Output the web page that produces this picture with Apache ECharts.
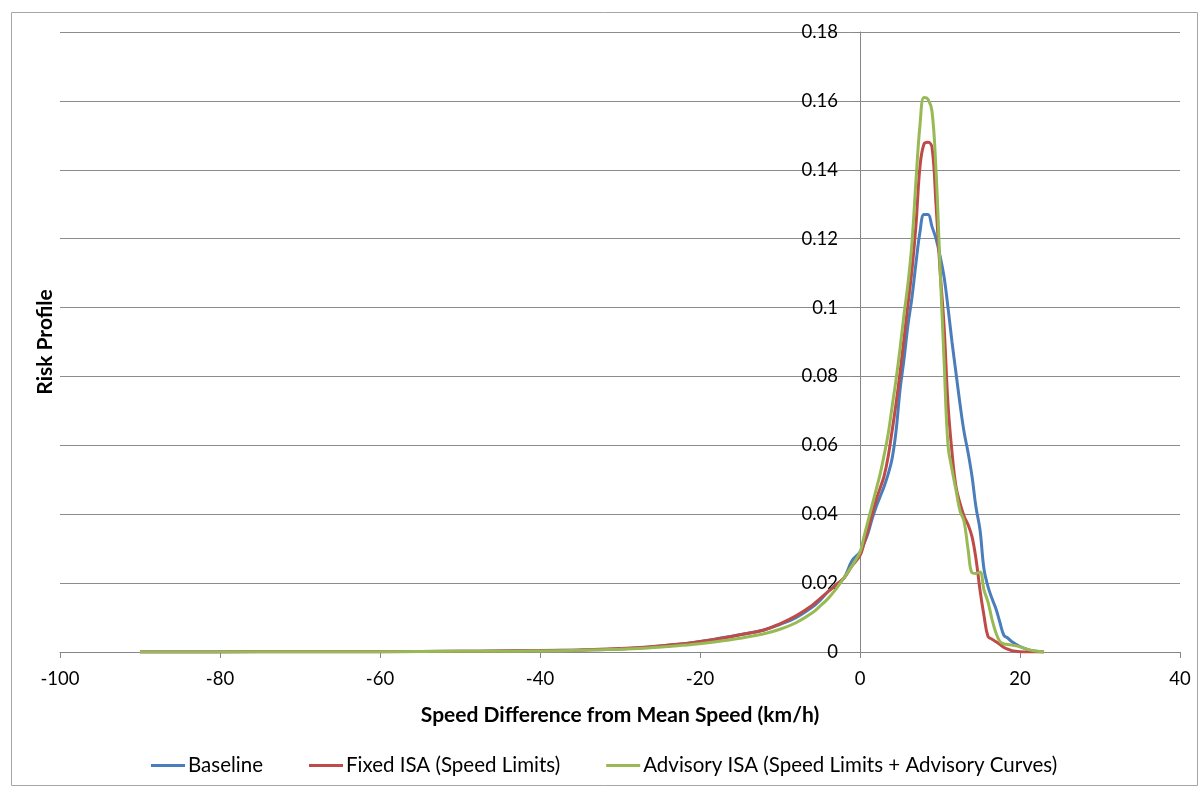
<!DOCTYPE html>
<html>
<head>
<meta charset="utf-8">
<script src="https://cdn.jsdelivr.net/npm/echarts@6/dist/echarts.min.js"></script>
<style>
html,body{margin:0;padding:0;background:#fff;}
#chart{width:1203px;height:790px;}
</style>
</head>
<body>
<div id="chart"></div>
<script>
// Speed difference from mean speed (km/h)
const speedDiff = [-90,-80,-70,-60,-50,-45,-40,-35,-30,-27,-24,-21,-18,-15,-12,-10,-8,-6,-5,-4,-3,-2,-1,
  0,0.5,1,1.5,2,2.5,3,3.5,4,4.5,5,5.5,6,6.5,7,7.5,8,8.5,9,9.5,10,10.5,11,11.5,12,12.5,13,13.5,14,14.5,15,15.5,16,16.5,17,17.5,18,18.5,19,
  20,21,22,23];

const baseline = [0,0,0.0001,0.0001,0.0002,0.0003,0.0004,0.0006,0.0009,0.0013,0.0019,0.0027,0.0038,0.005,0.0064,0.008,0.0100,0.013,0.015,0.0175,0.0195,0.0215,0.0265,
  0.029,0.0315,0.0345,0.0385,0.042,0.045,0.048,0.0515,0.056,0.064,0.076,0.085,0.095,0.103,0.113,0.122,0.127,0.127,0.1235,0.12,0.115,0.109,0.1,0.09,0.081,0.072,0.064,0.058,0.051,0.042,0.0355,0.024,0.019,0.0155,0.0125,0.0085,0.0048,0.004,0.003,
  0.0016,0.0007,0.0002,0];

const fixedISA = [0,0,0.0001,0.0001,0.0002,0.0003,0.0004,0.0006,0.001,0.0014,0.002,0.0027,0.0037,0.005,0.0064,0.0082,0.0105,0.0135,0.0155,0.0175,0.0195,0.0215,0.025,
  0.028,0.0315,0.0355,0.0398,0.044,0.0475,0.051,0.0565,0.064,0.072,0.081,0.091,0.101,0.111,0.124,0.141,0.1475,0.148,0.1465,0.13,0.111,0.095,0.072,0.058,0.048,0.0432,0.0395,0.037,0.0335,0.027,0.018,0.0105,0.0045,0.0037,0.003,0.0022,0.0013,0.0008,0.0004,
  0.0001,0,0,0];

const advisoryISA = [0,0,0.0001,0.0001,0.0002,0.0002,0.0003,0.0005,0.0008,0.0011,0.0016,0.0022,0.003,0.004,0.0053,0.0066,0.0085,0.0113,0.0133,0.0155,0.0183,0.0215,0.025,
  0.029,0.0335,0.038,0.0425,0.047,0.0515,0.057,0.063,0.071,0.079,0.088,0.098,0.107,0.119,0.137,0.153,0.161,0.1605,0.157,0.14,0.112,0.085,0.06,0.053,0.047,0.041,0.038,0.030,0.023,0.0228,0.0232,0.018,0.0145,0.0095,0.0055,0.003,0.0023,0.0022,0.002,
  0.0015,0.0007,0.0003,0];

const seriesNames = ['Baseline','Fixed ISA (Speed Limits)','Advisory ISA (Speed Limits + Advisory Curves)'];
const seriesColors = ['#4A7EBB','#BE4B48','#98B954'];
const xAxisTitle = 'Speed Difference from Mean Speed (km/h)';
const yAxisTitle = 'Risk Profile';

const FONT = 'Lato, "Open Sans", sans-serif';
const chart = echarts.init(document.getElementById('chart'), null, {renderer:'canvas'});
const allData = [baseline, fixedISA, advisoryISA];

chart.setOption({
  animation: false,
  backgroundColor: '#fff',
  textStyle: {fontFamily: FONT},
  grid: {left: 60, right: 23, top: 32, bottom: 138, containLabel: false},
  graphic: [
    {type:'rect', left: 9, top: 10, shape:{width:1186, height:773}, style:{fill:'none', stroke:'#a6a6a6', lineWidth:1}, silent:true, z:-1},
    {type:'text', x: 45, y: 342, rotation: Math.PI/2, style:{text: yAxisTitle, font: 'bold 21px ' + FONT, fill:'#000', textAlign:'center', textVerticalAlign:'middle'}}
  ],
  legend: {
    top: 755, left: 151, padding: 0,
    icon: 'rect', itemWidth: 34, itemHeight: 3, itemGap: 46,
    textStyle: {fontSize: 20.5, color:'#000', fontFamily: FONT, padding:[0,0,0,-2]},
    data: seriesNames
  },
  xAxis: {
    type: 'value', min: -100, max: 40, interval: 20,
    name: xAxisTitle, nameLocation: 'middle', nameGap: 53,
    nameTextStyle: {fontSize: 21, fontWeight:'bold', color:'#000', fontFamily: FONT},
    axisLine: {onZero: false, lineStyle:{color:'#868686', width:1}},
    axisTick: {show:true, length:6, lineStyle:{color:'#868686'}},
    axisLabel: {fontSize: 18.5, color:'#000', margin: 18, fontFamily: FONT},
    splitLine: {show:false}
  },
  yAxis: {
    type: 'value', min: 0, max: 0.18, interval: 0.02,
    position: 'left', offset: -800,
    axisLine: {show:true, onZero: false, lineStyle:{color:'#868686', width:1}},
    axisTick: {show:true, length:6, lineStyle:{color:'#868686'}},
    axisLabel: {fontSize: 18.5, color:'#000', margin: 22, fontFamily: FONT},
    splitLine: {show:true, lineStyle:{color:'#8c8c8c', width:1}}
  },
  series: allData.map((d, k) => ({
    name: seriesNames[k],
    type: 'line',
    data: speedDiff.map((x, i) => [x, d[i]]),
    showSymbol: false,
    smooth: 0.4,
    color: seriesColors[k],
    lineStyle: {width: 3, color: seriesColors[k]},
    z: 2 + k
  }))
});
</script>
</body>
</html>
